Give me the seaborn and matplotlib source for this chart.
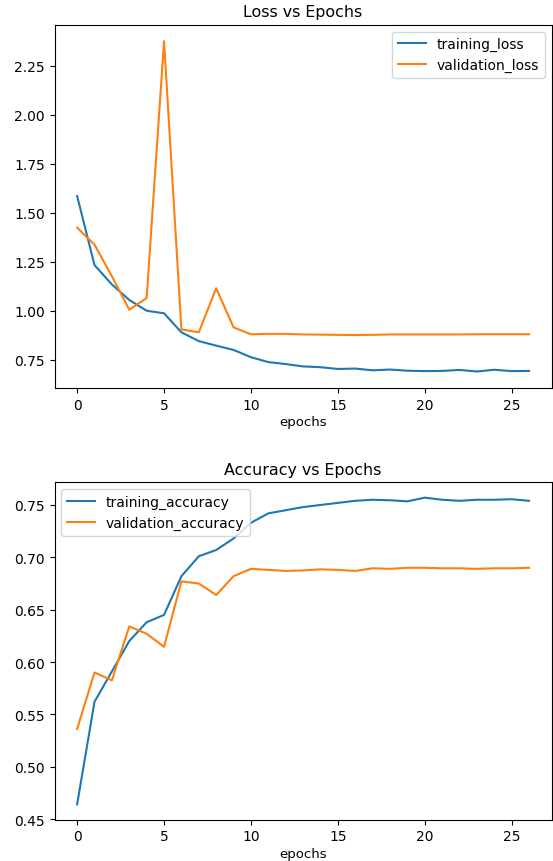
import matplotlib
matplotlib.use("Agg")
import matplotlib.pyplot as plt
import pandas as pd
import seaborn as sns

epochs = list(range(27))

training_loss = [1.585, 1.233, 1.134, 1.055, 1.000, 0.987, 0.890, 0.845, 0.822, 0.800,
                 0.763, 0.738, 0.728, 0.716, 0.712, 0.703, 0.705, 0.696, 0.700, 0.694,
                 0.692, 0.693, 0.698, 0.690, 0.699, 0.692, 0.693]
validation_loss = [1.424, 1.337, 1.176, 1.005, 1.065, 2.375, 0.905, 0.890, 1.115, 0.915,
                   0.880, 0.882, 0.882, 0.879, 0.878, 0.877, 0.876, 0.877, 0.879, 0.879,
                   0.879, 0.879, 0.879, 0.880, 0.880, 0.880, 0.880]

training_accuracy = [0.464, 0.562, 0.591, 0.620, 0.638, 0.645, 0.682, 0.701, 0.707, 0.718,
                     0.733, 0.742, 0.745, 0.748, 0.750, 0.752, 0.754, 0.755, 0.7545, 0.7535,
                     0.757, 0.755, 0.754, 0.755, 0.755, 0.7555, 0.754]
validation_accuracy = [0.536, 0.590, 0.5825, 0.634, 0.627, 0.6145, 0.677, 0.675, 0.664, 0.682,
                       0.689, 0.688, 0.687, 0.6875, 0.6885, 0.688, 0.687, 0.6895, 0.689, 0.690,
                       0.690, 0.6895, 0.6895, 0.689, 0.6895, 0.6895, 0.690]

loss_df = pd.DataFrame({"epochs": epochs * 2,
                        "value": training_loss + validation_loss,
                        "series": ["training_loss"] * 27 + ["validation_loss"] * 27})
acc_df = pd.DataFrame({"epochs": epochs * 2,
                       "value": training_accuracy + validation_accuracy,
                       "series": ["training_accuracy"] * 27 + ["validation_accuracy"] * 27})

palette = ["#1f77b4", "#ff7f0e"]

fig = plt.figure(figsize=(5.53, 8.62), dpi=100)
ax1 = fig.add_axes([0.0986, 0.5487, 0.899, 0.4215])
ax2 = fig.add_axes([0.0986, 0.0479, 0.899, 0.3914])

sns.lineplot(data=loss_df, x="epochs", y="value", hue="series", palette=palette, ax=ax1)
ax1.set_title("Loss vs Epochs", fontsize=11.4)
ax1.set_xlabel("epochs", fontsize=9.5, labelpad=2.5)
ax1.set_ylabel("")
ax1.legend(loc="upper right")

sns.lineplot(data=acc_df, x="epochs", y="value", hue="series", palette=palette, ax=ax2)
ax2.set_title("Accuracy vs Epochs", fontsize=11.4)
ax2.set_xlabel("epochs", fontsize=9.5, labelpad=2.5)
ax2.set_ylabel("")
ax2.legend(loc="upper left")

fig.savefig("out.png", dpi=100)
